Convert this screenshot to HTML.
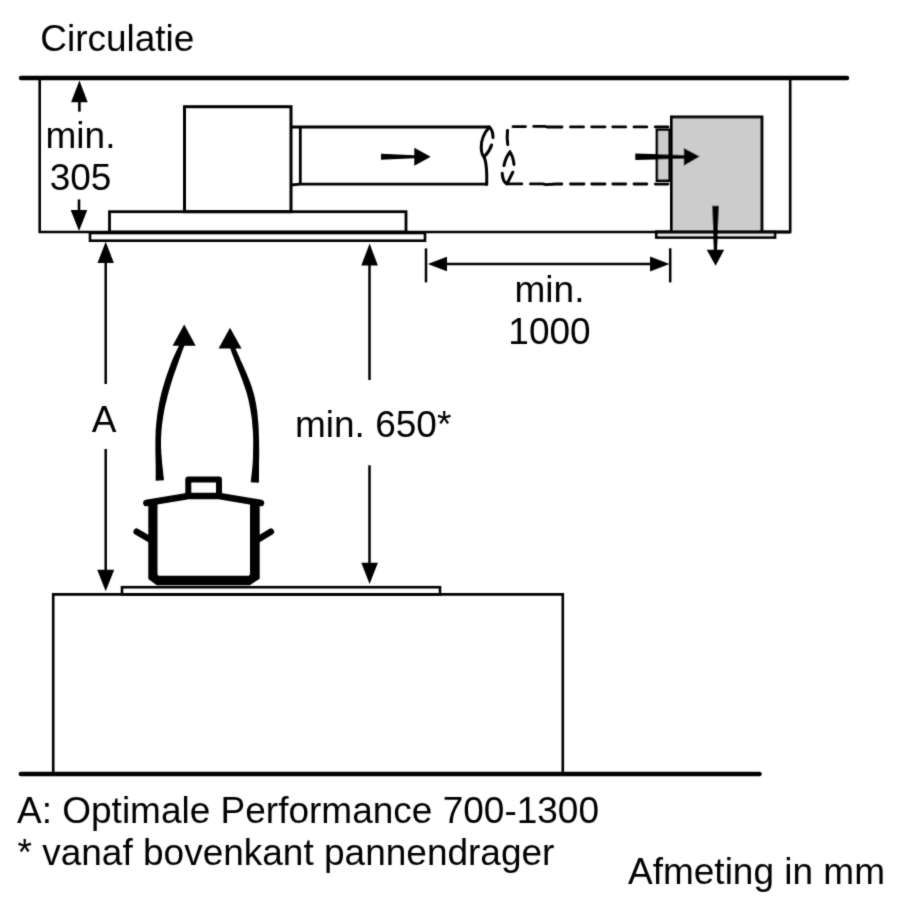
<!DOCTYPE html>
<html>
<head>
<meta charset="utf-8">
<style>
html,body{margin:0;padding:0;background:#fff;width:900px;height:900px;overflow:hidden}
svg{display:block;filter:grayscale(1)}
text{font-family:"Liberation Sans",sans-serif;font-size:37px;fill:#000}
</style>
</head>
<body>
<svg width="900" height="900" viewBox="0 0 900 900">
<defs><filter id="soft" x="0" y="0" width="900" height="900" filterUnits="userSpaceOnUse"><feConvolveMatrix order="3" kernelMatrix="0.01917 0.10012 0.01917 0.10012 0.52283 0.10012 0.01917 0.10012 0.01917" edgeMode="duplicate"/></filter></defs>
<rect width="900" height="900" fill="#fff"/>
<g filter="url(#soft)">
<g fill="none" stroke="#000" stroke-width="2.6">
  <!-- ceiling -->
  <line x1="21" y1="78" x2="847" y2="78" stroke-width="4.5" stroke-linecap="round"/>
  <!-- cabinet walls -->
  <polyline points="39.7,79 39.7,232 790.2,232 790.2,79"/>
  <!-- hood box -->
  <rect x="184.5" y="106.7" width="106.5" height="105" stroke-width="3"/>
  <!-- hood lower panel -->
  <rect x="109.5" y="211.7" width="296.5" height="20.3" stroke-width="2.8"/>
  <!-- trim -->
  <rect x="90" y="233" width="335" height="7.7" stroke-width="2.6"/>
  <!-- duct -->
  <line x1="291" y1="127" x2="489.5" y2="127" stroke-width="2.8"/>
  <path d="M291,185 L300.3,184.1 H487" stroke-width="2.8"/>
  <line x1="300.3" y1="127" x2="300.3" y2="184.1" stroke-width="2.8"/>
  <!-- break -->
  <path d="M489.4,127 C484,133 481,141 481.2,148 C481.5,153 483,156 484,157 C487,163 487,172 486.7,184.5" stroke-width="3" stroke-linecap="round"/>
  <path d="M489.4,127 C491.5,129 493,133 493,137.5" stroke-width="3" stroke-linecap="round"/>
  <path d="M491.6,145 C490,150 487,154 484,157" stroke-width="3" stroke-linecap="round"/>
  <!-- dashed break -->
  <path d="M507.5,130.5 C507,135 507,140 507.8,144.5" stroke-width="3" stroke-linecap="round"/>
  <path d="M504,165.6 C505,160 507.5,155 510,152 C512,155 513.5,160 514,164.4" stroke-width="3" stroke-linecap="round"/>
  <path d="M502.2,173.3 C502.5,178 504,182 506.5,183.8 M512.8,172.2 C511,176 509,180 507,183.8" stroke-width="3" stroke-linecap="round"/>
  <!-- dashed duct -->
  <g stroke-width="2.85" stroke-linecap="round" stroke-linejoin="round">
    <path d="M513,126.6 H525.5 M533.7,126.4 H545 L547,127 H562 M570.5,126.9 H583.5 M591.7,126.9 H605 M612.8,126.9 H625.7 M634,126.9 H646.8 M655.3,126.9 H668"/>
    <path d="M507.5,183.9 H521.8 M530.5,183.9 H542.5 L546,184.7 L556,184 H561.8 M570.5,184 H584 M591.7,184 H605 M612.8,184 H625.7 M634,184 H646.8 M655.3,184.1 H668"/>
  </g>
  <!-- filter collar -->
  <rect x="656.9" y="129.8" width="12.6" height="50.9" fill="#cccccc" stroke-width="2.6"/>
  <!-- filter box -->
  <rect x="671.5" y="117" width="90.4" height="115" fill="#cccccc" stroke-width="3"/>
  <!-- filter trim -->
  <rect x="656.3" y="232" width="118.7" height="5.5" fill="#e2e2e2" stroke-width="2.7"/>
  <!-- re-draw cabinet bottom over filter -->
  <line x1="655" y1="232" x2="790.2" y2="232" stroke-width="2.8"/>

  <!-- counter -->
  <polyline points="53.2,773 53.2,594.4 562.8,594.4 562.8,773"/>
  <!-- cooktop -->
  <rect x="122" y="587.2" width="318" height="7.2" stroke-width="2.6"/>
  <!-- floor -->
  <line x1="20.8" y1="774" x2="759.5" y2="774" stroke-width="4.5" stroke-linecap="round"/>

  <!-- dimension lines -->
  <line x1="79.4" y1="100" x2="79.4" y2="111.7" stroke-width="2.6"/>
  <line x1="79" y1="199.4" x2="79" y2="212" stroke-width="2.6"/>
  <line x1="105.7" y1="262" x2="105.7" y2="384" stroke-width="2.5"/>
  <line x1="105.7" y1="449" x2="105.7" y2="571" stroke-width="2.5"/>
  <line x1="369.5" y1="264" x2="369.5" y2="380" stroke-width="2.5"/>
  <line x1="369.5" y1="465.3" x2="369.5" y2="564" stroke-width="2.5"/>
  <line x1="445" y1="264.1" x2="652" y2="264.1" stroke-width="2.5"/>
  <line x1="426" y1="248.4" x2="426" y2="282.4" stroke-width="2.5"/>
  <line x1="670.2" y1="248.3" x2="670.2" y2="282.4" stroke-width="2.5"/>
</g>
<g fill="#000" stroke="none">
  <!-- arrowheads -->
  <polygon points="79.4,80.5 71.1,102.2 87.7,102.2"/>
  <polygon points="79,231.1 70.7,210 87.3,210"/>
  <polygon points="105.7,241.7 97.5,263 113.9,263"/>
  <polygon points="105.7,591.3 97.2,569.8 114.2,569.8"/>
  <polygon points="369.6,243.6 361.3,265.6 377.9,265.6"/>
  <polygon points="369.6,584 361.3,562.7 377.9,562.7"/>
  <polygon points="427.8,264 447,256.7 447,271.3"/>
  <polygon points="669.5,264 650,256.6 650,271.4"/>
  <!-- flow arrows -->
  <polygon points="381,153.8 414.3,155.2 414.3,147.8 430.7,156.7 414.3,165.7 414.3,158.3 381,159.8"/>
  <polygon points="635.3,153.5 683.8,155.1 683.8,148 699.8,156.4 683.8,165.8 683.8,158.7 635.3,160"/>
  <polygon points="712.2,205.7 718.9,205.7 717.1,249.7 724.2,249.7 715.6,265.7 706.7,249.7 713.8,249.7"/>
</g>

<!-- pot -->
<g fill="none" stroke="#000" stroke-linecap="round" stroke-linejoin="round">
  <path d="M148.3,502 V579 L156.7,585.2 H249.7 L259.7,578.7 V502 Z M157.5,502 V574.5 L158.8,575.8 H248.7 L250,574.5 V502 Z" fill="#000" fill-rule="evenodd" stroke="none"/>
  <path d="M146.3,503 L188.3,496 H219 L261,503" stroke-width="6.5"/>
  <path d="M188.3,496 V479.5 H219 V496" stroke-width="6" stroke-linejoin="round"/>
  <line x1="136.7" y1="531.7" x2="150" y2="539.5" stroke-width="6.5"/>
  <line x1="270.8" y1="531.7" x2="258" y2="539.5" stroke-width="6.5"/>
</g>
<!-- steam arrows -->
<g fill="#000">
  <path d="M164.0,480.3 163.7,477.2 163.3,474.1 163.0,471.0 162.7,468.0 162.3,465.0 162.0,461.9 161.8,458.9 161.6,455.9 161.3,452.8 161.2,449.8 161.0,446.7 161.0,443.5 161.0,440.3 161.1,437.1 161.3,433.8 161.5,430.5 161.8,427.0 162.2,423.5 162.7,419.9 163.2,416.3 163.9,412.5 164.6,408.6 165.5,404.6 166.5,400.5 167.5,396.2 168.7,391.8 170.0,387.3 171.4,382.6 172.9,377.7 174.6,372.7 176.5,367.5 178.4,362.1 180.4,356.4 182.5,350.5 184.8,344.5 180.4,342.5 177.6,348.5 174.9,354.2 172.4,359.8 170.3,365.2 168.4,370.5 166.6,375.6 165.0,380.6 163.5,385.4 162.2,390.1 161.0,394.6 160.0,399.0 159.1,403.3 158.4,407.4 157.7,411.5 157.1,415.4 156.7,419.2 156.3,422.9 156.0,426.5 155.7,430.1 155.6,433.5 155.5,436.9 155.4,440.3 155.4,443.5 155.4,446.7 155.4,449.9 155.4,453.0 155.5,456.2 155.5,459.2 155.6,462.3 155.7,465.3 155.7,468.4 155.7,471.4 155.7,474.5 155.7,477.6 155.6,480.7Z"/>
  <polygon points="184.2,324.4 172.6,345.7 195.7,345.7"/>
  <path d="M258.9,482.8 259.0,475.4 259.0,468.5 259.0,461.8 259.2,455.5 259.2,449.6 259.1,443.9 259.0,438.5 258.8,433.4 258.7,428.5 258.4,423.9 258.0,419.5 257.6,415.3 257.2,411.3 256.6,407.5 256.0,403.8 255.3,400.3 254.6,397.0 253.8,393.8 252.9,390.7 252.0,387.7 251.0,384.8 250.0,381.9 248.9,379.2 247.8,376.5 246.7,373.8 245.5,371.1 244.4,368.5 243.2,365.8 242.0,363.1 240.7,360.4 239.5,357.6 238.3,354.8 237.0,351.9 235.7,348.8 234.5,345.7 229.9,347.3 231.0,350.6 232.1,353.8 233.3,356.8 234.4,359.8 235.5,362.6 236.6,365.4 237.7,368.2 238.7,370.9 239.8,373.5 240.8,376.2 241.8,378.8 242.8,381.5 243.7,384.2 244.7,386.9 245.6,389.7 246.5,392.6 247.3,395.5 248.1,398.6 248.8,401.8 249.5,405.1 250.2,408.6 250.8,412.2 251.4,416.1 251.9,420.1 252.3,424.4 252.7,428.9 253.0,433.6 253.2,438.7 253.2,443.9 253.1,449.5 253.0,455.4 252.8,461.6 252.3,468.1 251.5,475.0 250.7,482.2Z"/>
  <polygon points="230,327.7 218.6,348.5 241.5,348.5"/>
</g>

<!-- texts -->
<text x="40.2" y="51">Circulatie</text>
<text x="80.5" y="148" text-anchor="middle">min.</text>
<text x="80.5" y="190" text-anchor="middle">305</text>
<text x="549.5" y="302.4" text-anchor="middle">min.</text>
<text x="549.5" y="344" text-anchor="middle">1000</text>
<text x="104" y="431.6" text-anchor="middle">A</text>
<text x="295" y="437">min. 650*</text>
<text x="17" y="823">A: Optimale Performance 700-1300</text>
<text x="17.5" y="865">* vanaf bovenkant pannendrager</text>
<text x="628" y="883.7">Afmeting in mm</text>
</g>
</svg>
</body>
</html>
